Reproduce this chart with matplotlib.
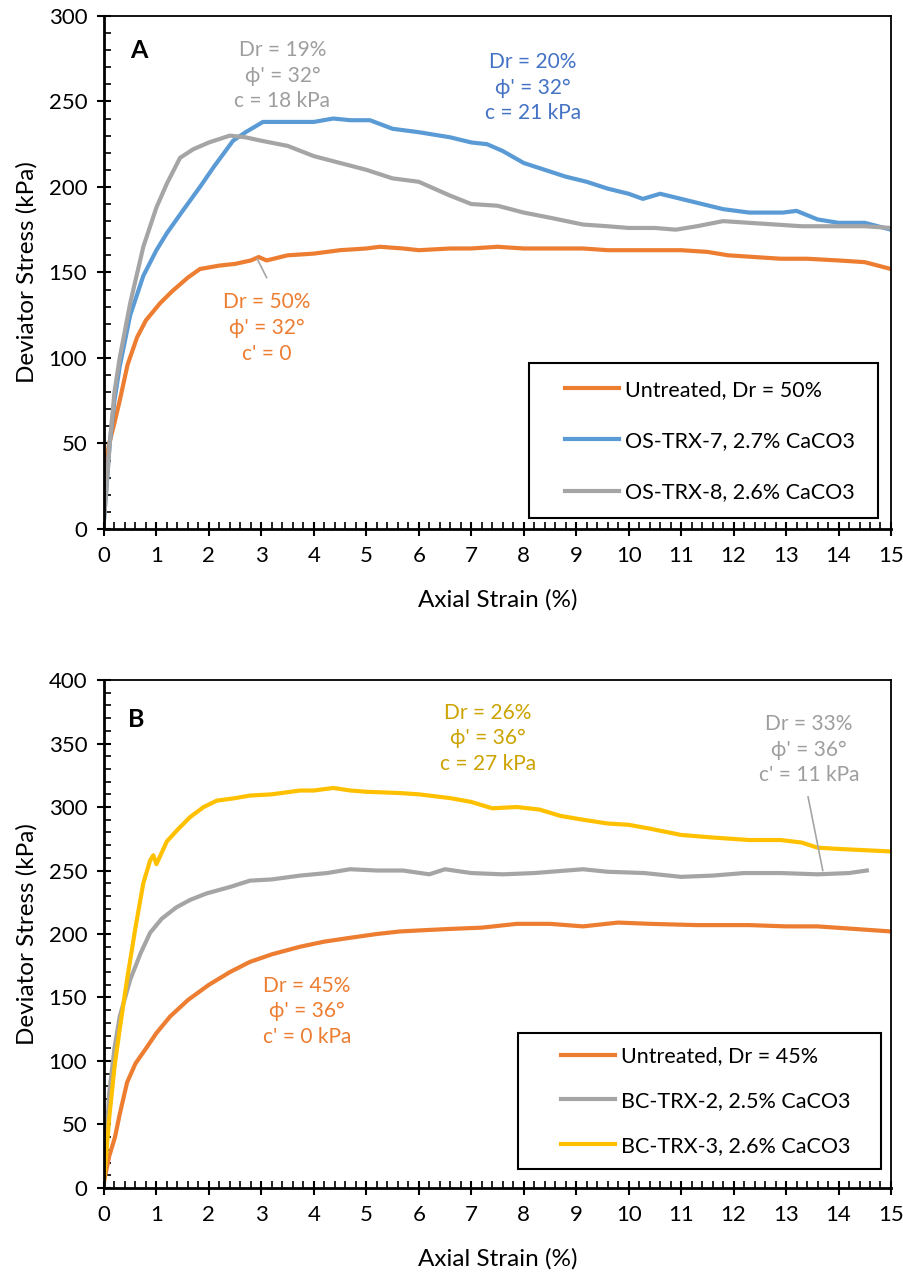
import matplotlib.pyplot as plt
from matplotlib.ticker import MultipleLocator
from matplotlib.patches import Rectangle

plt.rcParams['font.family'] = ['Lato', 'DejaVu Sans']

# colours (Office palette)
ORANGE = '#ED7D31'
BLUE = '#5B9BD5'
GRAY = '#A5A5A5'
YELLOW = '#FFC000'

# ---- panel A data ----
a_untreated_x = [0, 0.02, 0.05, 0.1, 0.2, 0.3, 0.45, 0.63, 0.8, 1.07, 1.3, 1.6, 1.83, 2.2, 2.5, 2.8, 2.95, 3.1, 3.5,
                 4.0, 4.5, 5.0, 5.26, 5.7, 6.0, 6.6, 7.0, 7.5, 8.0, 8.5, 9.13, 9.6, 10.0, 10.5, 11.0, 11.5, 11.9,
                 12.4, 12.9, 13.4, 14.0, 14.5, 15.0]
a_untreated_y = [20, 38, 42, 50, 62, 75, 96, 112, 122, 132, 139, 147, 152, 154, 155, 157, 159, 157, 160,
                 161, 163, 164, 165, 164, 163, 164, 164, 165, 164, 164, 164, 163, 163, 163, 163, 162, 160,
                 159, 158, 158, 157, 156, 152]

a_trx7_x = [0, 0.05, 0.11, 0.2, 0.3, 0.5, 0.75, 1.0, 1.2, 1.5, 1.83, 2.1, 2.46, 2.7, 3.03, 3.5, 4.0, 4.37,
            4.7, 5.07, 5.5, 6.0, 6.6, 7.0, 7.3, 7.6, 8.0, 8.4, 8.8, 9.2, 9.6, 10.0, 10.27, 10.6, 11.0, 11.4,
            11.8, 12.3, 12.94, 13.2, 13.6, 14.0, 14.5, 15.0]
a_trx7_y = [5, 25, 50, 75, 95, 125, 148, 163, 173, 186, 200, 212, 227, 232, 238, 238, 238, 240,
            239, 239, 234, 232, 229, 226, 225, 221, 214, 210, 206, 203, 199, 196, 193, 196, 193, 190,
            187, 185, 185, 186, 181, 179, 179, 175]

a_trx8_x = [0, 0.05, 0.11, 0.2, 0.3, 0.5, 0.75, 1.0, 1.2, 1.45, 1.7, 2.0, 2.4, 2.7, 3.0, 3.5, 4.0, 4.5,
            5.0, 5.5, 6.0, 6.59, 7.0, 7.5, 8.0, 8.5, 9.13, 9.6, 10.0, 10.5, 10.9, 11.3, 11.8, 12.3, 12.8,
            13.3, 14.0, 14.5, 15.0]
a_trx8_y = [5, 25, 50, 80, 100, 132, 165, 188, 202, 217, 222, 226, 230, 229, 227, 224, 218, 214,
            210, 205, 203, 195, 190, 189, 185, 182, 178, 177, 176, 176, 175, 177, 180, 179, 178,
            177, 177, 177, 176]

# ---- panel B data ----
b_untreated_x = [0, 0.05, 0.1, 0.21, 0.3, 0.44, 0.6, 0.82, 1.0, 1.26, 1.6, 2.0, 2.4, 2.78, 3.2, 3.74,
                 4.2, 4.69, 5.2, 5.64, 6.1, 6.6, 7.2, 7.87, 8.5, 9.13, 9.8, 10.4, 11.3, 12.3, 13.0, 13.6,
                 14.3, 15.0]
b_untreated_y = [5, 15, 25, 40, 58, 83, 98, 111, 122, 135, 148, 160, 170, 178, 184, 190,
                 194, 197, 200, 202, 203, 204, 205, 208, 208, 206, 209, 208, 207, 207, 206, 206,
                 204, 202]

b_trx2_x = [0, 0.05, 0.1, 0.2, 0.3, 0.5, 0.7, 0.88, 1.1, 1.38, 1.65, 1.96, 2.4, 2.78, 3.2, 3.74, 4.25,
            4.69, 5.2, 5.7, 6.2, 6.5, 7.0, 7.6, 8.2, 9.13, 9.6, 10.3, 11.0, 11.6, 12.2, 12.9, 13.6,
            14.2, 14.54]
b_trx2_y = [5, 40, 75, 110, 135, 164, 185, 201, 212, 221, 227, 232, 237, 242, 243, 246, 248,
            251, 250, 250, 247, 251, 248, 247, 248, 251, 249, 248, 245, 246, 248, 248, 247,
            248, 250]

b_trx3_x = [0, 0.05, 0.1, 0.2, 0.3, 0.44, 0.6, 0.75, 0.88, 0.94, 1.0, 1.2, 1.4, 1.64, 1.9, 2.15, 2.5,
            2.78, 3.2, 3.74, 4.0, 4.37, 4.7, 5.0, 5.64, 6.0, 6.6, 7.0, 7.4, 7.87, 8.3, 8.7, 9.13, 9.6,
            10.0, 10.4, 11.0, 11.6, 12.3, 12.9, 13.3, 13.6, 14.0, 14.5, 15.0]
b_trx3_y = [5, 30, 55, 95, 125, 164, 205, 240, 258, 262, 255, 273, 282, 292, 300, 305, 307,
            309, 310, 313, 313, 315, 313, 312, 311, 310, 307, 304, 299, 300, 298, 293, 290, 287,
            286, 283, 278, 276, 274, 274, 272, 268, 267, 266, 265]

xticks = list(range(0, 16))

fig = plt.figure(figsize=(9.04, 12.73), dpi=100)
axA = fig.add_axes([0.115, 0.5845, 0.8706, 0.403])
axB = fig.add_axes([0.115, 0.0668, 0.8706, 0.399])


def style(ax, ymax, ystep):
    ax.set_xlim(0, 15)
    ax.set_ylim(0, ymax)
    ax.set_xticks(xticks)
    ax.set_yticks(range(0, ymax + 1, ystep))
    ax.xaxis.set_minor_locator(MultipleLocator(0.2))
    ax.yaxis.set_minor_locator(MultipleLocator(10))
    ax.tick_params(which='major', direction='inout', length=10, width=1.5, labelsize=16, pad=7)
    ax.tick_params(which='minor', direction='in', length=5, width=1.2)
    for s in ax.spines.values():
        s.set_linewidth(1.3)
    ax.spines['left'].set_linewidth(2)
    ax.spines['bottom'].set_linewidth(2)
    ax.set_xlabel('Axial Strain (%)', fontsize=17.5, labelpad=17)
    ax.set_ylabel('Deviator Stress (kPa)', fontsize=17.5, labelpad=8)


def legend_box(ax, x0, y0, x1, y1, anchor, spacing):
    ax.add_patch(Rectangle((x0, y0), x1 - x0, y1 - y0, transform=ax.transAxes,
                           fill=True, facecolor='white', edgecolor='black', lw=1.5, zorder=4))
    leg = ax.legend(loc='center left', bbox_to_anchor=anchor, fontsize=15.5, frameon=False,
                    labelspacing=spacing, handlelength=2.5, handletextpad=0.3,
                    borderpad=0, borderaxespad=0)
    leg.set_zorder(5)


txt = dict(fontsize=15, ha='center', va='center', linespacing=1.35)

# panel A
axA.plot(a_untreated_x, a_untreated_y, color=ORANGE, lw=3, label='Untreated, Dr = 50%')
axA.plot(a_trx7_x, a_trx7_y, color=BLUE, lw=3, label='OS-TRX-7, 2.7% CaCO3')
axA.plot(a_trx8_x, a_trx8_y, color=GRAY, lw=3, label='OS-TRX-8, 2.6% CaCO3')
style(axA, 300, 50)
axA.text(0.5, 280, 'A', fontsize=18, fontweight='bold', va='center', ha='left')
axA.text(3.4, 265, "Dr = 19%\nϕ' = 32°\nc = 18 kPa", color='#9E9E9E', **txt)
axA.text(8.18, 258, "Dr = 20%\nϕ' = 32°\nc = 21 kPa", color='#4472C4', **txt)
axA.text(3.1, 117.5, "Dr = 50%\nϕ' = 32°\nc' = 0", color=ORANGE, **txt)
axA.plot([3.1, 2.92], [147, 158], color=GRAY, lw=1.2)
legend_box(axA, 0.540, 0.0214, 0.9835, 0.3236, (0.5858, 0.1715), 1.45)

# panel B
axB.plot(b_untreated_x, b_untreated_y, color=ORANGE, lw=3, label='Untreated, Dr = 45%')
axB.plot(b_trx2_x, b_trx2_y, color=GRAY, lw=3, label='BC-TRX-2, 2.5% CaCO3')
axB.plot(b_trx3_x, b_trx3_y, color=YELLOW, lw=3, label='BC-TRX-3, 2.6% CaCO3')
style(axB, 400, 50)
axB.text(0.45, 369, 'B', fontsize=18, fontweight='bold', va='center', ha='left')
axB.text(7.32, 354, "Dr = 26%\nϕ' = 36°\nc = 27 kPa", color='#CCA300', **txt)
axB.text(13.44, 345, "Dr = 33%\nϕ' = 36°\nc' = 11 kPa", color='#9E9E9E', **txt)
axB.plot([13.42, 13.7], [308, 250], color=GRAY, lw=1.2)
axB.text(3.87, 139, "Dr = 45%\nϕ' = 36°\nc' = 0 kPa", color=ORANGE, **txt)
legend_box(axB, 0.526, 0.0374, 0.987, 0.305, (0.5807, 0.1713), 1.15)

fig.savefig('out.png', dpi=100)
